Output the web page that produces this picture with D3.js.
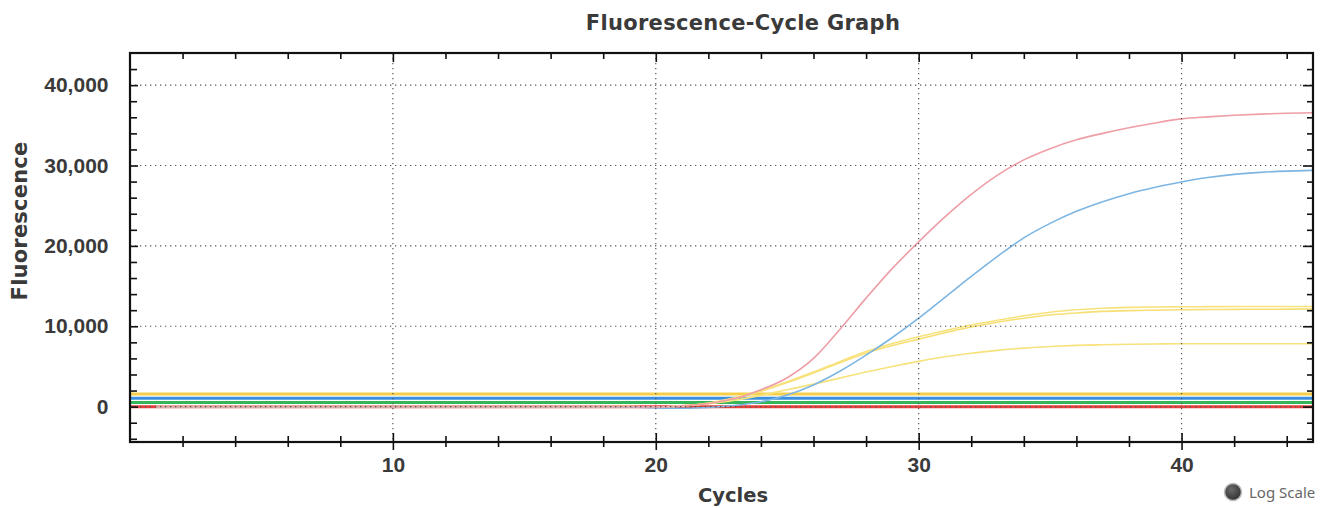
<!DOCTYPE html>
<html>
<head>
<meta charset="utf-8">
<script src="https://cdn.jsdelivr.net/npm/d3@7"></script>
<style>
  body { margin: 0; background: #fff; }
  svg { display: block; }
  .lbl { font-family: "DejaVu Sans", sans-serif; font-weight: bold; fill: #3a3a3a; }
  .tickLbl { font-family: "Liberation Sans", Arial, sans-serif; font-weight: bold; fill: #3a3a3a; }
</style>
</head>
<body>
<svg id="chart" width="1328" height="508"></svg>
<script>
const cycles = [1, 2, 3, 4, 5, 6, 7, 8, 9, 10, 11, 12, 13, 14, 15, 16, 17, 18, 19, 20, 21, 22, 23, 24, 25, 26, 27, 28, 29, 30, 31, 32, 33, 34, 35, 36, 37, 38, 39, 40, 41, 42, 43, 44, 45];

const redCurve = [0, 0, 0, 0, 0, 0, 0, 0, 0, 0, 0, 0, 0, 0, 0, 0, 0, 0, 0, -50, 100, 400, 1000, 2100, 3600, 6000, 9600, 13500, 17200, 20500, 23600, 26400, 28800, 30700, 32100, 33200, 34000, 34700, 35300, 35800, 36050, 36250, 36400, 36500, 36560];
const blueCurve = [0, 0, 0, 0, 0, 0, 0, 0, 0, 0, 0, 0, 0, 0, 0, 0, 0, 0, -50, -150, -200, -100, 150, 600, 1450, 2700, 4400, 6400, 8600, 11000, 13600, 16200, 18700, 21000, 22800, 24300, 25500, 26500, 27300, 27950, 28500, 28900, 29150, 29300, 29400];
const yellowCurveA = [0, 0, 0, 0, 0, 0, 0, 0, 0, 0, 0, 0, 0, 0, 0, 0, 0, 0, 0, -50, 100, 450, 1100, 2000, 3100, 4300, 5600, 6850, 7850, 8700, 9450, 10150, 10750, 11300, 11750, 12050, 12250, 12350, 12400, 12420, 12440, 12450, 12460, 12460, 12460];
const yellowCurveB = [0, 0, 0, 0, 0, 0, 0, 0, 0, 0, 0, 0, 0, 0, 0, 0, 0, 0, 0, -50, 100, 400, 1000, 1900, 3000, 4200, 5450, 6650, 7600, 8400, 9200, 9900, 10500, 11000, 11400, 11650, 11850, 11950, 12000, 12050, 12080, 12100, 12120, 12130, 12140];
const yellowCurveC = [0, 0, 0, 0, 0, 0, 0, 0, 0, 0, 0, 0, 0, 0, 0, 0, 0, 0, 0, -50, 100, 350, 800, 1400, 2100, 2800, 3550, 4300, 5000, 5630, 6200, 6650, 7000, 7280, 7480, 7620, 7700, 7760, 7800, 7830, 7830, 7830, 7830, 7830, 7830];

const thresholdValues = [0, 500, 1030, 1580];
const thresholdColors = ['#e8403a', '#35b55a', '#3b8fe0', '#f6cf4a'];

const curveSeries = [
  { values: yellowCurveC, color: '#f7e27c' },
  { values: yellowCurveB, color: '#f7df74' },
  { values: yellowCurveA, color: '#f7e27c' },
  { values: blueCurve, color: '#7db6e3' },
  { values: redCurve, color: '#ee9ea6' },
];

const yMajorTicks = [0, 10000, 20000, 30000, 40000];
const yMinorTicks = [-4000, -2000, 2000, 4000, 6000, 8000, 12000, 14000, 16000, 18000, 22000, 24000, 26000, 28000, 32000, 34000, 36000, 38000, 42000];
const xMajorTicks = [10, 20, 30, 40];
const xMinorTicks = [2, 4, 6, 8, 12, 14, 16, 18, 22, 24, 26, 28, 32, 34, 36, 38, 42, 44];

const plotLeft = 130;
const plotRight = 1313;
const plotTop = 53;
const plotBottom = 442;

const x = d3.scaleLinear().domain([0, 45]).range([plotLeft, plotRight]);
const y = d3.scaleLinear().domain([-4400, 44000]).range([plotBottom, plotTop]);

const svg = d3.select('#chart');

// title
svg.append('text')
  .attr('class', 'lbl')
  .attr('x', 743)
  .attr('y', 30)
  .attr('text-anchor', 'middle')
  .style('font-size', '21px')
  .style('letter-spacing', '0.3px')
  .text('Fluorescence-Cycle Graph');

// threshold lines
svg.append('g')
  .selectAll('line')
  .data(thresholdValues)
  .enter()
  .append('line')
  .attr('x1', plotLeft)
  .attr('x2', plotRight)
  .attr('y1', (d) => y(d))
  .attr('y2', (d) => y(d))
  .attr('stroke', (d, i) => thresholdColors[i])
  .attr('stroke-width', 3);

// amplification curves
const line = d3.line()
  .x((d, i) => x(cycles[i]))
  .y((d) => y(d))
  .curve(d3.curveMonotoneX);

svg.append('g')
  .selectAll('path')
  .data(curveSeries)
  .enter()
  .append('path')
  .attr('d', (d) => line(d.values))
  .attr('fill', 'none')
  .attr('stroke', (d) => d.color)
  .attr('stroke-width', 1.6);

// dotted grid
const grid = svg.append('g')
  .attr('stroke', '#555')
  .attr('stroke-width', 1.2)
  .attr('stroke-dasharray', '1.3,3.7');

grid.selectAll('.gy')
  .data(yMajorTicks)
  .enter()
  .append('line')
  .attr('x1', plotLeft)
  .attr('x2', plotRight)
  .attr('y1', (d) => y(d))
  .attr('y2', (d) => y(d));

grid.selectAll('.gx')
  .data(xMajorTicks)
  .enter()
  .append('line')
  .attr('x1', (d) => x(d))
  .attr('x2', (d) => x(d))
  .attr('y1', plotTop)
  .attr('y2', plotBottom);

// axes
const styleAxis = (g) => {
  g.select('.domain').remove();
  g.selectAll('.tick line').attr('stroke', '#111').attr('stroke-width', 1.6);
  g.selectAll('.tick text')
    .attr('class', 'tickLbl')
    .style('font-size', '21px')
    .attr('fill', '#3a3a3a');
};

// left: major with labels, ticks crossing the axis line
svg.append('g')
  .attr('transform', `translate(${plotLeft}, 0)`)
  .call(d3.axisLeft(y).tickValues(yMajorTicks).tickFormat(d3.format(',')).tickSize(8).tickPadding(13.5))
  .call(styleAxis)
  .call((g) => g.selectAll('.tick line').attr('x2', 8));

svg.append('g')
  .attr('transform', `translate(${plotLeft}, 0)`)
  .call(d3.axisLeft(y).tickValues(yMinorTicks).tickFormat('').tickSize(7))
  .call(styleAxis)
  .call((g) => g.selectAll('.tick line').attr('x2', 7));

// right: inward ticks
svg.append('g')
  .attr('transform', `translate(${plotRight}, 0)`)
  .call(d3.axisLeft(y).tickValues(yMajorTicks).tickFormat('').tickSize(10))
  .call(styleAxis);

svg.append('g')
  .attr('transform', `translate(${plotRight}, 0)`)
  .call(d3.axisLeft(y).tickValues(yMinorTicks).tickFormat('').tickSize(6))
  .call(styleAxis);

// bottom: major with labels, ticks crossing the axis line
svg.append('g')
  .attr('transform', `translate(0, ${plotBottom})`)
  .call(d3.axisBottom(x).tickValues(xMajorTicks).tickSize(8).tickPadding(7))
  .call(styleAxis)
  .call((g) => g.selectAll('.tick line').attr('y1', -9));

svg.append('g')
  .attr('transform', `translate(0, ${plotBottom})`)
  .call(d3.axisBottom(x).tickValues(xMinorTicks).tickFormat('').tickSize(5))
  .call(styleAxis)
  .call((g) => g.selectAll('.tick line').attr('y1', -6));

// top: inward ticks
svg.append('g')
  .attr('transform', `translate(0, ${plotTop})`)
  .call(d3.axisBottom(x).tickValues(xMajorTicks).tickFormat('').tickSize(9))
  .call(styleAxis);

svg.append('g')
  .attr('transform', `translate(0, ${plotTop})`)
  .call(d3.axisBottom(x).tickValues(xMinorTicks).tickFormat('').tickSize(6))
  .call(styleAxis);

// frame
svg.append('rect')
  .attr('x', plotLeft)
  .attr('y', plotTop)
  .attr('width', plotRight - plotLeft)
  .attr('height', plotBottom - plotTop)
  .attr('fill', 'none')
  .attr('stroke', '#111')
  .attr('stroke-width', 2.2);

// axis titles
svg.append('text')
  .attr('class', 'lbl')
  .attr('transform', 'translate(27, 221) rotate(-90)')
  .attr('text-anchor', 'middle')
  .style('font-size', '21px')
  .style('letter-spacing', '0.2px')
  .text('Fluorescence');

svg.append('text')
  .attr('class', 'lbl')
  .attr('x', 733)
  .attr('y', 502)
  .attr('text-anchor', 'middle')
  .style('font-size', '19.5px')
  .text('Cycles');

// log scale toggle
const grad = svg.append('defs')
  .append('radialGradient')
  .attr('id', 'knob')
  .attr('cx', '40%')
  .attr('cy', '35%')
  .attr('r', '65%');
grad.append('stop').attr('offset', '0%').attr('stop-color', '#6a6a6a');
grad.append('stop').attr('offset', '100%').attr('stop-color', '#333');

svg.append('circle')
  .attr('cx', 1233)
  .attr('cy', 492)
  .attr('r', 8.5)
  .attr('fill', 'url(#knob)')
  .attr('stroke', '#bbb')
  .attr('stroke-width', 1.5);

svg.append('text')
  .attr('x', 1249)
  .attr('y', 497.5)
  .style('font-family', '"Noto Sans", sans-serif')
  .style('font-size', '15px')
  .attr('fill', '#666')
  .text('Log Scale');
</script>
</body>
</html>
